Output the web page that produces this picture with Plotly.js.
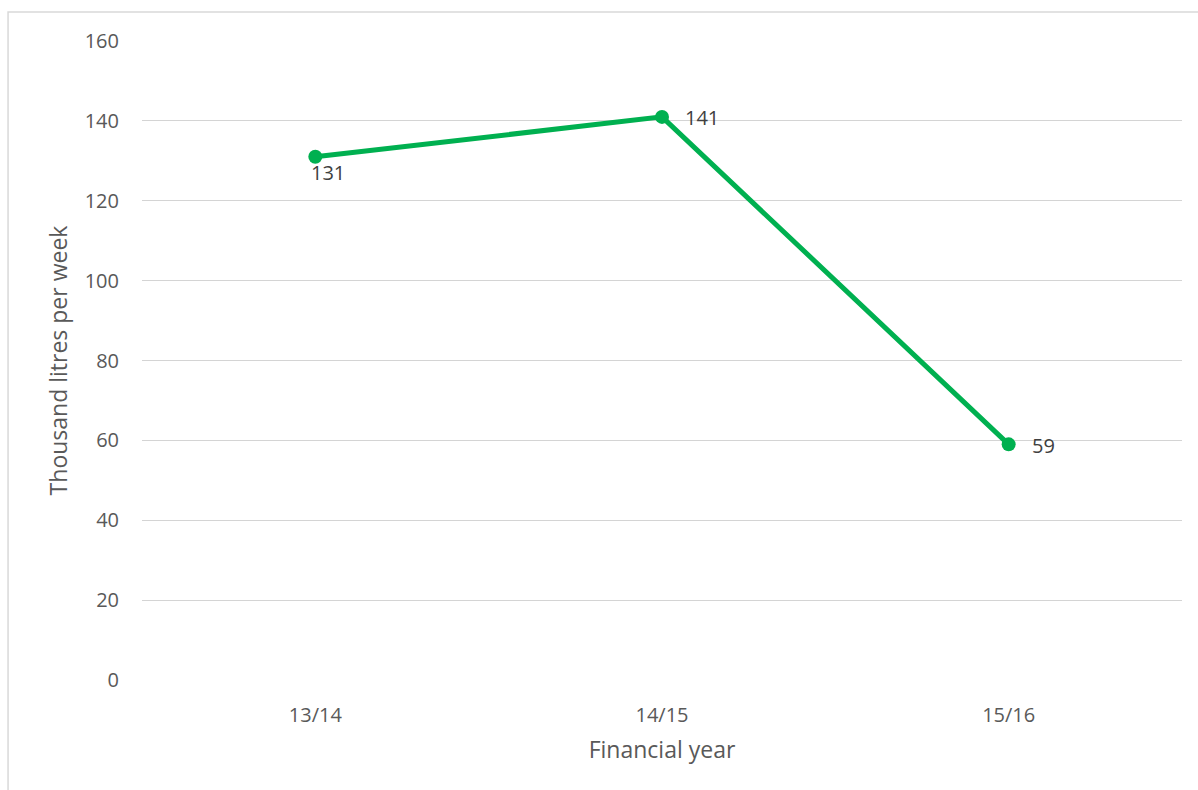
<!DOCTYPE html>
<html>
<head>
<meta charset="utf-8">
<script src="https://cdn.plot.ly/plotly-3.0.1.min.js"></script>
<style>html,body{margin:0;padding:0;background:#fff;}#chart{width:1198px;height:790px;}</style>
</head>
<body>
<div id="chart"></div>
<script>
const years = ["13/14", "14/15", "15/16"];
const litres = [131, 141, 59];
const yTicks = [0, 20, 40, 60, 80, 100, 120, 140, 160];

const labelShifts = [[13, -16], [21, -1], [21, -1]];
const annotations = years.map((y, i) => ({
  x: y, y: litres[i], text: String(litres[i]), showarrow: false,
  xanchor: i === 0 ? 'center' : 'left', yanchor: 'middle',
  xshift: labelShifts[i][0], yshift: labelShifts[i][1],
  font: {family: 'Open Sans, sans-serif', size: 20, color: '#404040'}
}));

const trace = {
  x: years, y: litres, type: 'scatter', mode: 'lines+markers',
  line: {color: '#00B050', width: 5},
  marker: {color: '#00B050', size: 14},
  hoverinfo: 'skip'
};

const layout = {
  width: 1198, height: 790,
  margin: {l: 142, r: 16, t: 41, b: 110},
  paper_bgcolor: '#ffffff', plot_bgcolor: '#ffffff',
  showlegend: false,
  font: {family: 'Open Sans, sans-serif', size: 20, color: '#595959'},
  xaxis: {
    type: 'category', range: [-0.5, 2.5], showgrid: false, zeroline: false,
    showline: false, ticks: '', ticklabelstandoff: 21,
    tickfont: {size: 20, color: '#595959'},
    title: {text: 'Financial year', font: {size: 23, color: '#595959'}, standoff: 14}
  },
  yaxis: {
    range: [0, 160], tickvals: yTicks, showgrid: true, gridcolor: '#d4d4d4', gridwidth: 1,
    zeroline: false, showline: false, ticks: '', ticklabelstandoff: 22,
    tickfont: {size: 20, color: '#595959'},
    title: {text: 'Thousand litres per week', font: {size: 23, color: '#595959'}, standoff: 10}
  },
  shapes: [{
    type: 'rect', xref: 'paper', yref: 'paper',
    x0: -0.1288, x1: 1.02, y0: -0.2, y1: 1.0454,
    line: {color: '#d9d9d9', width: 1.5}, fillcolor: 'rgba(0,0,0,0)', layer: 'below'
  }],
  annotations: annotations
};

Plotly.newPlot('chart', [trace], layout, {displayModeBar: false, staticPlot: true});
</script>
</body>
</html>
